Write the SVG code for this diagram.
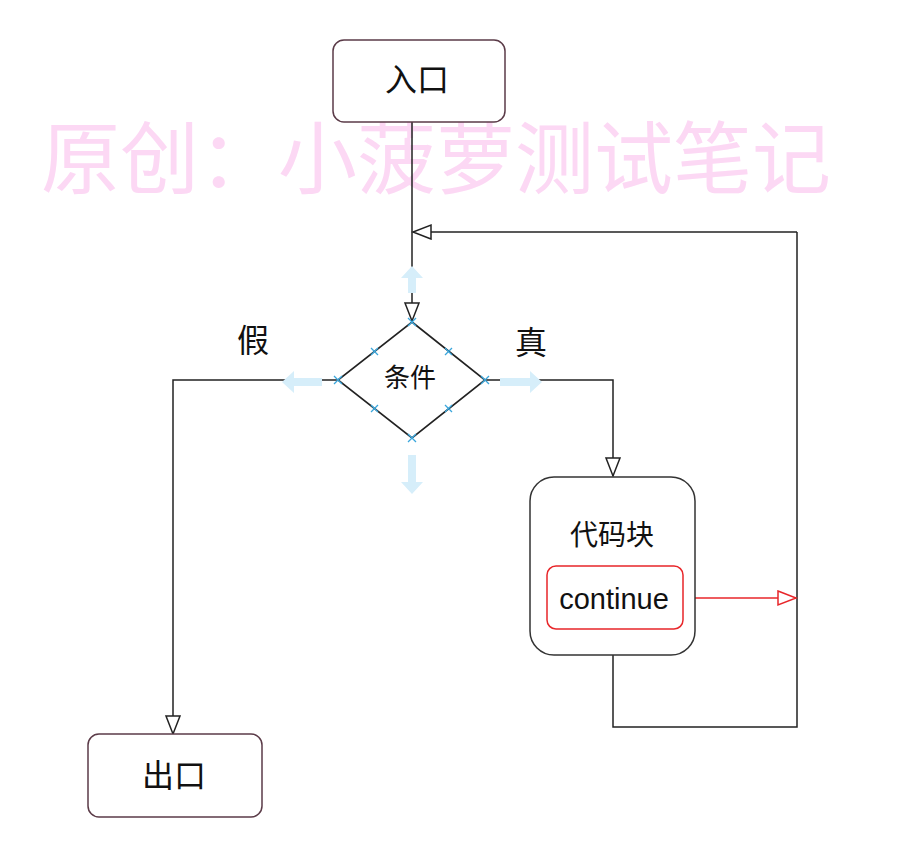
<svg xmlns="http://www.w3.org/2000/svg" width="910" height="868" viewBox="0 0 910 868">
<defs>
<style>
.term{fill:#fff;stroke:#5b3b48;stroke-width:1.5}
.blk{fill:#fff;stroke:#333;stroke-width:1.5}
.ln{fill:none;stroke:#222;stroke-width:1.5}
.red{fill:none;stroke:#e8262a;stroke-width:1.5}
.t{font-family:"Noto Sans CJK SC","Liberation Sans",sans-serif;fill:#111;text-anchor:middle}
.hint{fill:#d6eefa}
.x{stroke:#3aa6dc;stroke-width:1.3}
</style>
<marker id="ah" markerUnits="userSpaceOnUse" markerWidth="22" markerHeight="18" refX="19" refY="8" orient="auto">
<path d="M1,1 L19,8 L1,15 Z" fill="#fff" stroke="#222" stroke-width="1.5"/>
</marker>
<marker id="ahr" markerUnits="userSpaceOnUse" markerWidth="22" markerHeight="18" refX="19" refY="8" orient="auto">
<path d="M1,1 L19,8 L1,15 Z" fill="#fff" stroke="#e8262a" stroke-width="1.5"/>
</marker>
</defs>
<rect width="910" height="868" fill="#fff"/>
<text x="436" y="188" font-size="79" fill="#fcd8f4" font-family="'Noto Sans CJK SC',sans-serif" text-anchor="middle">原创：小菠萝测试笔记</text>
<g id="connectors">
<path class="ln" d="M412,122 V321" marker-end="url(#ah)"/>
<path class="ln" d="M797,232 H413" marker-end="url(#ah)"/>
<path class="ln" d="M338,380 H173 V734" marker-end="url(#ah)"/>
<path class="ln" d="M485,380 H613 V476" marker-end="url(#ah)"/>
<path class="ln" d="M613,655 V727 H797 V232"/>
<path class="red" d="M683,598 H796" marker-end="url(#ahr)"/>
</g>
<g id="hints">
<path class="hint" d="M412,266 L423,278 H416 V293 H408 V278 H401 Z"/>
<path class="hint" d="M412,494 L423,482 H416 V455 H408 V482 H401 Z"/>
<path class="hint" d="M282,382 L294,371 V378 H322 V386 H294 V393 Z"/>
<path class="hint" d="M542,382 L530,371 V378 H500 V386 H530 V393 Z"/>
</g>
<g id="entry">
<rect class="term" x="333" y="40" width="172" height="82" rx="11"/>
<text class="t" x="417" y="91" font-size="32">入口</text>
</g>
<g id="condition">
<path d="M412,322 L485,380 L412,438 L338,380 Z" fill="#fff" stroke="#222" stroke-width="1.6"/>
<text class="t" x="410" y="387" font-size="26">条件</text>
<g class="x">
<path d="M408,318 l8,8 M416,318 l-8,8"/>
<path d="M334,376 l8,8 M342,376 l-8,8"/>
<path d="M481,376 l8,8 M489,376 l-8,8"/>
<path d="M408,434 l8,8 M416,434 l-8,8"/>
<path d="M371,348 l7,7 M378,348 l-7,7"/>
<path d="M445,348 l7,7 M452,348 l-7,7"/>
<path d="M371,405 l7,7 M378,405 l-7,7"/>
<path d="M445,405 l7,7 M452,405 l-7,7"/>
</g>
</g>
<g id="label-false"><text class="t" x="253" y="352" font-size="32">假</text></g>
<g id="label-true"><text class="t" x="531" y="354" font-size="32">真</text></g>
<g id="codeblock">
<rect class="blk" x="530" y="477" width="165" height="178" rx="24"/>
<text class="t" x="612" y="545" font-size="28">代码块</text>
</g>
<g id="continue">
<rect x="547" y="566" width="136" height="63" rx="9" fill="#fff" stroke="#e8262a" stroke-width="1.5"/>
<text x="614" y="609" font-size="29" font-family="'Liberation Sans',Arial,sans-serif" fill="#111" text-anchor="middle">continue</text>
</g>
<g id="exit">
<rect class="term" x="88" y="734" width="174" height="83" rx="11"/>
<text class="t" x="174" y="787" font-size="32">出口</text>
</g>
</svg>
